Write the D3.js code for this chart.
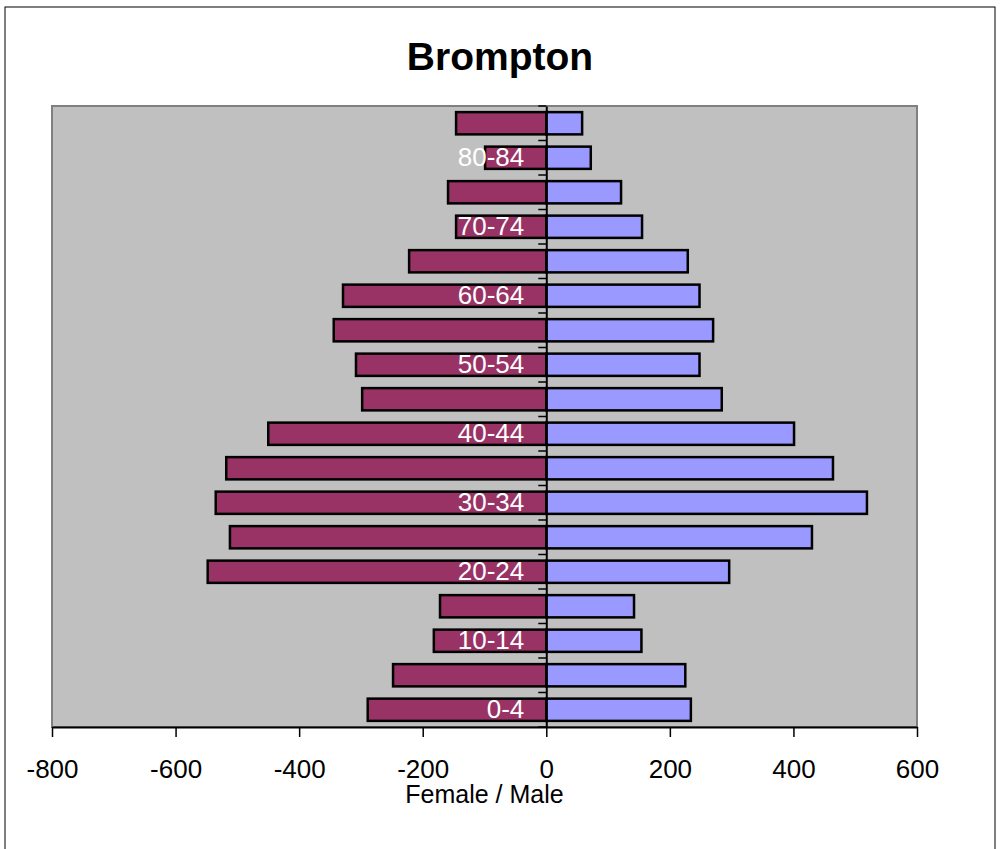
<!DOCTYPE html>
<html>
<head>
<meta charset="utf-8">
<script src="https://cdn.jsdelivr.net/npm/d3@7"></script>
<style>
body { margin: 0; background: #fff; }
text { font-family: Arial, "Liberation Sans", sans-serif; }
</style>
</head>
<body>
<svg id="chart"></svg>
<script>
const width = 1001;
const height = 849;

// age groups, bottom to top
const ages = ['0-4','5-9','10-14','15-19','20-24','25-29','30-34','35-39','40-44',
  '45-49','50-54','55-59','60-64','65-69','70-74','75-79','80-84','85+'];
const female = [289, 248, 182, 172, 548, 512, 535, 518, 450, 298, 308, 344, 329, 222, 146, 159, 99, 146];
const male   = [234, 225, 154, 142, 296, 430, 519, 464, 401, 284, 248, 270, 248, 229, 155, 121, 72, 58];
const xTicks = [-800, -600, -400, -200, 0, 200, 400, 600];
const labeledAges = ['0-4','10-14','20-24','30-34','40-44','50-54','60-64','70-74','80-84'];

const svg = d3.select('#chart').attr('width', width).attr('height', height);

const margin = {top: 106, right: 84, bottom: 122, left: 52};
const innerW = width - margin.left - margin.right;
const innerH = height - margin.top - margin.bottom;

// outer chart border
svg.append('rect')
  .attr('x', 5).attr('y', 7)
  .attr('width', 990).attr('height', 860)
  .attr('fill', '#fff')
  .attr('stroke', '#000')
  .attr('stroke-width', 1);

svg.append('text')
  .attr('x', 500)
  .attr('y', 70)
  .attr('text-anchor', 'middle')
  .style('font-size', '39px')
  .style('font-weight', 'bold')
  .text('Brompton');

const g = svg.append('g')
  .attr('transform', `translate(${margin.left},${margin.top})`);

const x = d3.scaleLinear().domain([-800, 600]).range([0, innerW]);
const y = d3.scaleBand()
  .domain(ages.slice().reverse())
  .range([0, innerH])
  .paddingInner(0.355)
  .paddingOuter(0.355 / 2);

g.append('rect')
  .attr('width', innerW)
  .attr('height', innerH)
  .attr('fill', '#c0c0c0')
  .attr('stroke', '#808080')
  .attr('stroke-width', 2);

const rows = ages.map((a, i) => ({age: a, f: female[i], m: male[i]}));

g.selectAll('.fbar')
  .data(rows)
  .enter()
  .append('rect')
  .attr('class', 'fbar')
  .attr('x', d => x(-d.f))
  .attr('y', d => y(d.age))
  .attr('width', d => x(0) - x(-d.f))
  .attr('height', y.bandwidth())
  .attr('fill', '#993366')
  .attr('stroke', '#000')
  .attr('stroke-width', 2.5);

g.selectAll('.mbar')
  .data(rows)
  .enter()
  .append('rect')
  .attr('class', 'mbar')
  .attr('x', x(0))
  .attr('y', d => y(d.age))
  .attr('width', d => x(d.m) - x(0))
  .attr('height', y.bandwidth())
  .attr('fill', '#9999ff')
  .attr('stroke', '#000')
  .attr('stroke-width', 2.5);

// x axis, plain hyphen for negatives like the original
const xAxis = g.append('g')
  .attr('transform', `translate(0,${innerH})`)
  .call(d3.axisBottom(x).tickValues(xTicks).tickFormat(d => String(d))
    .tickSize(10).tickPadding(23).tickSizeOuter(0));
xAxis.select('.domain').attr('stroke', '#000').attr('stroke-width', 2);
xAxis.selectAll('.tick line').attr('stroke', '#000').attr('stroke-width', 1.5);
xAxis.selectAll('text').style('font-size', '26px').attr('fill', '#000');

// y axis at zero with ticks between categories
const yAxis = g.append('g')
  .attr('transform', `translate(${x(0)},0)`)
  .call(d3.axisLeft(y).tickValues(labeledAges).tickSize(0).tickPadding(22));
yAxis.select('.domain').attr('stroke', '#000').attr('stroke-width', 2);
yAxis.selectAll('text').style('font-size', '26px').attr('fill', '#fff');

const gap = y.step() * y.paddingInner() / 2;
const bounds = ages.map(a => y(a) - gap).concat([innerH]);
yAxis.selectAll('.btick')
  .data(bounds)
  .enter()
  .append('line')
  .attr('class', 'btick')
  .attr('x1', -8).attr('x2', 0)
  .attr('y1', d => d).attr('y2', d => d)
  .attr('stroke', '#000')
  .attr('stroke-width', 1.5);

g.append('text')
  .attr('x', innerW / 2)
  .attr('y', innerH + 76)
  .attr('text-anchor', 'middle')
  .style('font-size', '25px')
  .text('Female / Male');
</script>
</body>
</html>
